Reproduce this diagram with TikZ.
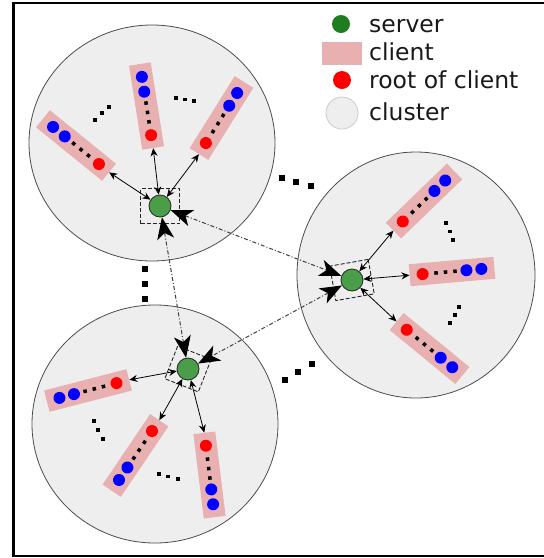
\documentclass[tikz,border=0pt]{standalone}
\usepackage{fontspec}
\setmainfont{DejaVu Sans}
\usetikzlibrary{arrows.meta}

\definecolor{clustergray}{HTML}{EEEEEE}
\definecolor{clientpink}{HTML}{E8B0B0}
\definecolor{servergreen}{HTML}{4A9E4A}
\definecolor{legendgreen}{HTML}{1E7D1E}

% one client: name, centre, angle (red root points along the angle)
\newcommand{\client}[3]{%
  \node[clientbox, rotate=#3] (#1) at (#2) {};
  \begin{scope}[shift={(#2)}, rotate=#3]
    \fill[blue] (-29.5,0) circle (6);
    \fill[blue] (-14.5,0) circle (6);
    \foreach \dpos in {-3,6.5,16}
      \fill (\dpos-1.75,-1.75) rectangle (\dpos+1.75,1.75);
    \fill[red] (29.5,0) circle (6);
  \end{scope}}

\begin{document}
\begin{tikzpicture}[x=1pt, y=-1pt,
    cluster/.style={fill=clustergray, draw=black!70, line width=0.8pt},
    clientbox/.style={rectangle, fill=clientpink, minimum width=85pt, minimum height=22pt, inner sep=0pt},
    server/.style={circle, fill=servergreen, draw=black!85, line width=0.8pt, minimum size=22pt, inner sep=0pt},
    serverbox/.style={rectangle, draw=black!85, dash pattern=on 4pt off 2pt, line width=0.9pt, minimum width=39pt, minimum height=35pt, inner sep=0pt},
    link/.style={{Stealth[length=8pt,width=7pt]}-{Stealth[length=8pt,width=7pt]}, line width=0.8pt},
    backbone/.style={{Stealth[length=22pt,width=17pt,inset=6pt,black]}-{Stealth[length=22pt,width=17pt,inset=6pt,black]}, draw=black!75, line width=1pt, dash pattern=on 4pt off 2pt on 1pt off 2pt},
    legendtext/.style={anchor=base west, inner sep=0pt, text=black!90, font=\fontsize{23.5}{28}\selectfont},
  ]
  \useasboundingbox (0,0) rectangle (544,558);
  \fill[white] (0,0) rectangle (544,558);

  % Frame (open on the right)
  \draw[line width=2.5pt] (544,3) -- (13.5,3) -- (13.5,556) -- (544,556);

  % Clusters
  \draw[cluster] (152,143) ellipse (123 and 118);
  \draw[cluster] (416,275) ellipse (119 and 123);
  \draw[cluster] (155,424) ellipse (123 and 119);

  % Servers and their dashed boxes
  \coordinate (p1) at (160,206);
  \coordinate (p2) at (352,280);
  \coordinate (p3) at (188,369);
  \node[serverbox] (b1) at (p1) {};
  \node[serverbox, rotate=10] (b2) at (p2) {};
  \node[serverbox, rotate=-21.5, minimum width=36pt] (b3) at (p3) {};

  % Clients
  \client{c11}{76,145.5}{-39}
  \client{c12}{146.5,106}{-81}
  \client{c13}{221.5,118}{-122}
  \client{c21}{424,201}{-136}
  \client{c22}{452,271.5}{-175}
  \client{c23}{429.5,348.5}{140.6}
  \client{c31}{88,390.5}{14.5}
  \client{c32}{135.5,455.5}{56}
  \client{c33}{209.5,475}{97}

  % Server nodes
  \node[server] (s1) at (p1) {};
  \node[server] (s2) at (p2) {};
  \node[server] (s3) at (p3) {};

  % Links server -- client
  \draw[link] (s1) -- (c11.east);
  \draw[link] (s1) -- (c12.east);
  \draw[link] (s1) -- (c13.east);
  \draw[link] (s2) -- (c21.east);
  \draw[link] (s2) -- (c22.east);
  \draw[link] (s2) -- (c23.east);
  \draw[link] (s3) -- (c31.east);
  \draw[link] (s3) -- (c32.east);
  \draw[link] (s3) -- (c33.east);

  % Links server -- server
  \draw[backbone] (s1) -- (s2);
  \draw[backbone] (s1) -- (s3);
  \draw[backbone] (s2) -- (s3);

  % Small dots between clients
  \foreach \q in {(95,120),(102,113),(109,107),(176,98),(185,99.5),(194,101),
                  (446,223),(450,231.5),(453,240),(450,323),(455,315),(459,307),
                  (94,421),(98,430),(103,439),(159,474),(168,476.5),(178,479)}
    \fill[shift={\q}] (-1.75,-1.75) rectangle (1.75,1.75);

  % Big dots between clusters
  \foreach \q in {(282,178),(296,182),(311,186),(145,269),(145,284),(145,299),
                  (285,380),(298,372),(312,364)}
    \fill[shift={\q}] (-2.75,-2.75) rectangle (2.75,2.75);

  % Legend
  \node[circle, fill=legendgreen, minimum size=18pt, inner sep=0pt] (lserver) at (341,24) {};
  \node[legendtext] (tserver) at (369,32) {server};
  \node[rectangle, fill=clientpink, minimum width=40pt, minimum height=23pt, inner sep=0pt] (lclient) at (342,53.5) {};
  \node[legendtext] (tclient) at (369,60) {client};
  \node[circle, fill=red, minimum size=18pt, inner sep=0pt] (lroot) at (342,80) {};
  \node[legendtext] (troot) at (369,88) {root of client};
  \node[circle, fill=clustergray, draw=black!20, line width=0.8pt, minimum size=32pt, inner sep=0pt] (lcluster) at (342,113) {};
  \node[legendtext] (tcluster) at (369,120) {cluster};
\end{tikzpicture}
\end{document}
